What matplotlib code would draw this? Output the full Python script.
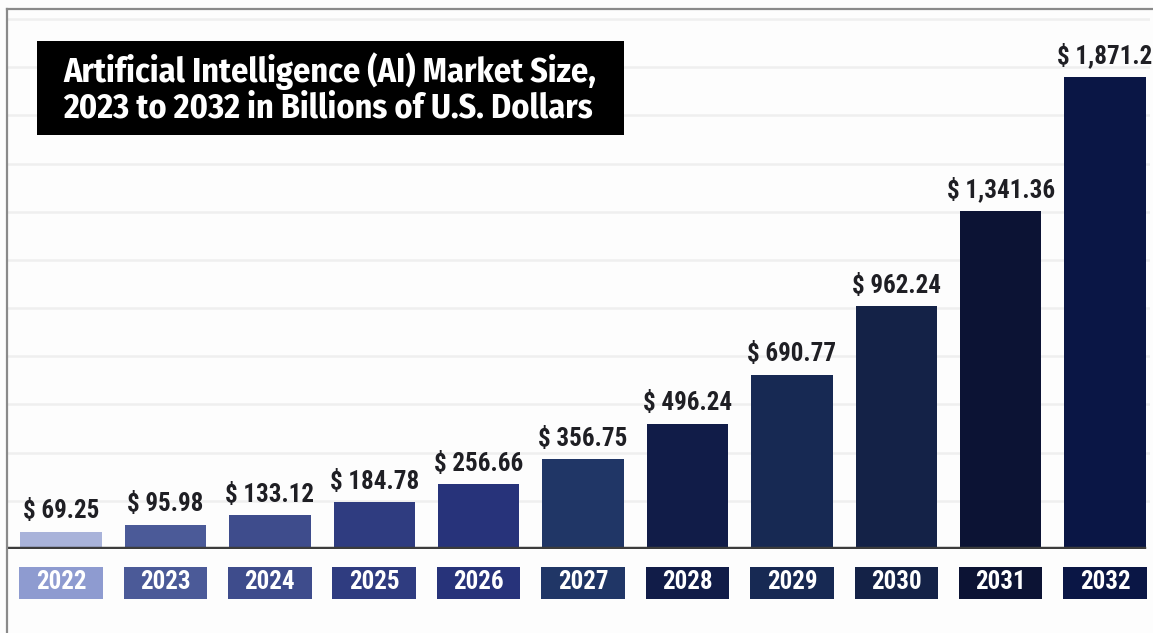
import matplotlib.pyplot as plt
from matplotlib.patches import Rectangle
from matplotlib.lines import Line2D
from matplotlib.transforms import blended_transform_factory

# AI market size, billions of USD
YEARS = ['2022', '2023', '2024', '2025', '2026', '2027',
         '2028', '2029', '2030', '2031', '2032']
VALUES = [69.25, 95.98, 133.12, 184.78, 256.66, 356.75,
          496.24, 690.77, 962.24, 1341.36, 1871.2]
LABELS = ['$ 69.25', '$ 95.98', '$ 133.12', '$ 184.78', '$ 256.66', '$ 356.75',
          '$ 496.24', '$ 690.77', '$ 962.24', '$ 1,341.36', '$ 1,871.2']
BAR_COLORS = ['#a9b3da', '#4b5a98', '#3e4c8c', '#2f3c80', '#27337a', '#203666',
              '#111c48', '#172953', '#142247', '#0c1334', '#0a1645']
BOX_COLORS = ['#8e9bd0', '#4b5a98', '#3e4c8c', '#2f3c80', '#27337a', '#203666',
              '#111c48', '#172953', '#142247', '#0c1334', '#0a1645']
TITLE = 'Artificial Intelligence (AI) Market Size,\n2023 to 2032 in Billions of U.S. Dollars'

W, H = 1153, 633
NARROW = ['Roboto Condensed', 'Archivo Narrow', 'DejaVu Sans']
TITLE_FONT = ['Fira Sans Condensed', 'Open Sans', 'DejaVu Sans']

fig = plt.figure(figsize=(W / 100, H / 100), dpi=100)
fig.patch.set_facecolor('#fdfdfd')

# axes: baseline at pixel row 549, top at row 9
ax = fig.add_axes([8 / W, 84 / H, 1142 / W, 540 / H])
ax.set_facecolor('none')
xs = list(range(len(YEARS)))
ax.set_xlim(-0.508, 10.43)
ax.set_ylim(0, 2140.8)

for y in range(191, 2140, 191):
    ax.axhline(y, color='#efefef', linewidth=1.8, zorder=0)

ax.bar(xs, VALUES, width=0.78, color=BAR_COLORS, zorder=2)
ax.axhline(0, xmin=0, xmax=0.995, color='#3c3c3c', linewidth=3.2, zorder=3)

for x, v, lab in zip(xs, VALUES, LABELS):
    ax.annotate(lab, (x, v), xytext=(0, 6), textcoords='offset points',
                ha='center', va='bottom', fontsize=18, fontweight='bold',
                color='#1f1f24', family=NARROW)

# year boxes under the baseline
trans = blended_transform_factory(ax.transData, ax.transAxes)
for x, yr, c in zip(xs, YEARS, BOX_COLORS):
    ax.add_patch(Rectangle((x - 0.4, -0.0926), 0.8, 0.0593, transform=trans,
                           facecolor=c, edgecolor='none', clip_on=False))
    ax.text(x, -0.062, yr, transform=trans, ha='center', va='center',
            fontsize=18, fontweight='bold', color='white', family=NARROW)

ax.set_xticks([])
ax.set_yticks([])
for s in ax.spines.values():
    s.set_visible(False)

# outer frame lines (top and left)
fig.add_artist(Line2D([7 / W, 7 / W], [0, 1 - 9 / H], color='#8a8a8a', linewidth=1.6))
fig.add_artist(Line2D([7 / W, 1], [1 - 9 / H, 1 - 9 / H], color='#8a8a8a', linewidth=1.6))

# title panel
fig.add_artist(Rectangle((37 / W, 1 - 135 / H), 587 / W, 94 / H,
                         transform=fig.transFigure, facecolor='black', edgecolor='none'))
fig.text(63 / W, 1 - 89 / H, TITLE, ha='left', va='center', fontsize=24.5,
         fontweight='bold', color='white', family=TITLE_FONT, linespacing=1.05)

fig.savefig('out.png', dpi=100, facecolor=fig.get_facecolor())
